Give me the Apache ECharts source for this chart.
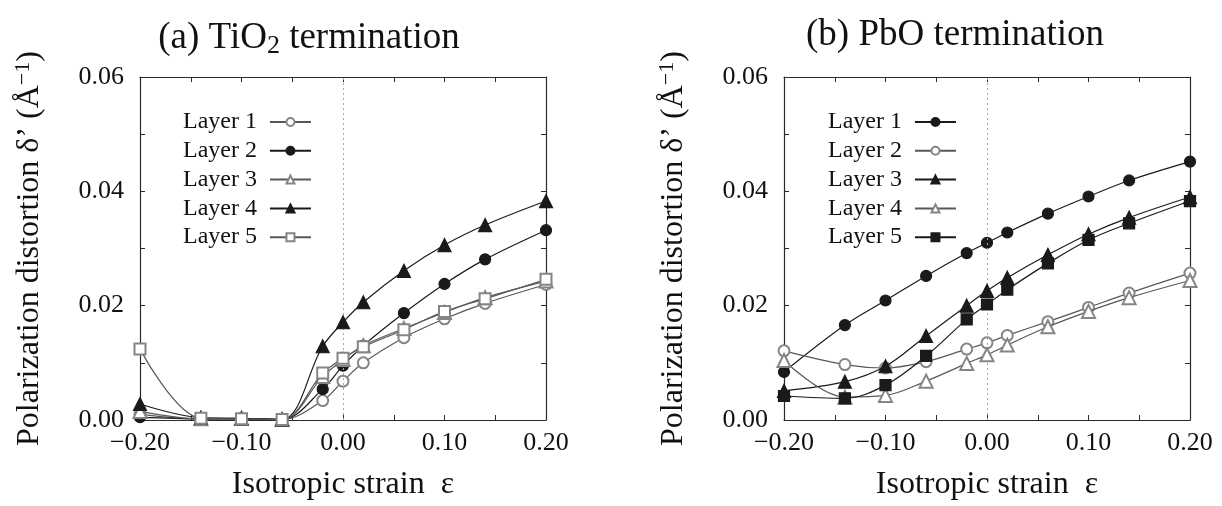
<!DOCTYPE html>
<html>
<head>
<meta charset="utf-8">
<script src="https://cdn.jsdelivr.net/npm/echarts@6/dist/echarts.min.js"></script>
<style>
  html, body { margin: 0; padding: 0; background: #fff; }
  #chart { width: 1222px; height: 506px; }
</style>
</head>
<body>
<div id="chart"></div>
<script>
// Isotropic strain values shared by both panels
const strain = [-0.20, -0.14, -0.10, -0.06, -0.02, 0.00, 0.02, 0.06, 0.10, 0.14, 0.20];

// (a) TiO2-terminated slab, polarization distortion per layer (1/Å)
const tio2Layer1 = [0.0010, 0.0002, 0.0002, 0.0001, 0.0034, 0.0068, 0.0100, 0.0144, 0.0177, 0.0204, 0.0237];
const tio2Layer2 = [0.0005, 0.0002, 0.0002, 0.0001, 0.0054, 0.0095, 0.0130, 0.0187, 0.0238, 0.0281, 0.0332];
const tio2Layer3 = [0.0015, 0.0002, 0.0003, 0.0001, 0.0076, 0.0106, 0.0130, 0.0160, 0.0188, 0.0214, 0.0243];
const tio2Layer4 = [0.0028, 0.0004, 0.0003, 0.0001, 0.0129, 0.0171, 0.0206, 0.0261, 0.0306, 0.0341, 0.0383];
const tio2Layer5 = [0.0124, 0.0003, 0.0002, 0.0001, 0.0082, 0.0108, 0.0128, 0.0158, 0.0190, 0.0212, 0.0246];

// (b) PbO-terminated slab
const pboLayer1 = [0.0084, 0.0166, 0.0209, 0.0252, 0.0292, 0.0310, 0.0328, 0.0361, 0.0391, 0.0419, 0.0452];
const pboLayer2 = [0.0121, 0.0097, 0.0091, 0.0102, 0.0124, 0.0135, 0.0148, 0.0172, 0.0197, 0.0222, 0.0257];
const pboLayer3 = [0.0051, 0.0067, 0.0094, 0.0147, 0.0200, 0.0226, 0.0249, 0.0289, 0.0325, 0.0354, 0.0390];
const pboLayer4 = [0.0104, 0.0040, 0.0043, 0.0068, 0.0099, 0.0114, 0.0131, 0.0163, 0.0190, 0.0214, 0.0244];
const pboLayer5 = [0.0042, 0.0038, 0.0061, 0.0112, 0.0176, 0.0202, 0.0228, 0.0274, 0.0315, 0.0344, 0.0383];

const layerNames = ['Layer 1', 'Layer 2', 'Layer 3', 'Layer 4', 'Layer 5'];
const panelTitles = ['(a) TiO{sub|2} termination', '(b) PbO termination'];
const xAxisTitle = 'Isotropic strain  \u03b5';
const yAxisTitle = '{t|Polarization distortion \u03b4\u2019 (\u00c5}{sup|\u22121}{t|)}';

const FONT = '"Liberation Serif", "DejaVu Serif", serif';
const DARK = '#1a1a1a';
const GREY_LINE = '#585858';
const GREY_MARK = '#858585';
const AXIS = '#2a2a2a';
const TEXT = '#111';

// marker style per layer for each panel: [symbol, filled]
const tio2Marks = [['emptyCircle', false], ['circle', true], ['emptyTriangle', false], ['triangle', true], ['emptyRect', false]];
const pboMarks  = [['circle', true], ['emptyCircle', false], ['triangle', true], ['emptyTriangle', false], ['rect', true]];

const grids = [
  { left: 140, top: 77, width: 406, height: 343 },
  { left: 784, top: 77, width: 406, height: 343 }
];

function fmtTick(v) {
  const s = Math.abs(v).toFixed(2);
  return v < -1e-9 ? '\u2212' + s : s;
}

const axisLine = { show: true, onZero: false, lineStyle: { color: AXIS, width: 1.2 } };
const tick = { show: true, inside: true, length: 5, lineStyle: { color: AXIS, width: 1 } };
const minor = { show: true, splitNumber: 2, length: 5, lineStyle: { color: AXIS, width: 1 } };

const xAxes = [], yAxes = [];
grids.forEach((g, gi) => {
  // bottom axis with labels, top mirror axis
  xAxes.push({
    gridIndex: gi, type: 'value', min: -0.2, max: 0.2, interval: 0.1, position: 'bottom',
    axisLine, axisTick: tick, minorTick: minor, splitLine: { show: false },
    axisLabel: { formatter: fmtTick, fontFamily: FONT, fontSize: 26, color: TEXT, margin: 10 },
    name: xAxisTitle, nameLocation: 'middle', nameGap: 49,
    nameTextStyle: { fontFamily: FONT, fontSize: 32, color: TEXT }
  });
  xAxes.push({
    gridIndex: gi, type: 'value', min: -0.2, max: 0.2, interval: 0.1, position: 'top',
    axisLine, axisTick: tick, minorTick: minor, splitLine: { show: false },
    axisLabel: { show: false }
  });
  // left axis with labels, right mirror axis
  yAxes.push({
    gridIndex: gi, type: 'value', min: 0, max: 0.06, interval: 0.02, position: 'left',
    axisLine, axisTick: tick, minorTick: minor, splitLine: { show: false },
    axisLabel: { formatter: v => v.toFixed(2), fontFamily: FONT, fontSize: 26, color: TEXT, margin: 16 },
    name: yAxisTitle, nameLocation: 'middle', nameGap: 92,
    nameTextStyle: {
      color: TEXT,
      rich: {
        t: { fontFamily: FONT, fontSize: 32, color: TEXT },
        sup: { fontFamily: FONT, fontSize: 22, color: TEXT, padding: [0, 0, 14, 0] }
      }
    }
  });
  yAxes.push({
    gridIndex: gi, type: 'value', min: 0, max: 0.06, interval: 0.02, position: 'right',
    axisLine, axisTick: tick, minorTick: minor, splitLine: { show: false },
    axisLabel: { show: false }
  });
});

function makeSeries(panel, gi, arrays, marks) {
  return arrays.map((arr, i) => {
    const [sym, filled] = marks[i];
    const lineCol = filled ? DARK : GREY_LINE;
    const markCol = filled ? DARK : GREY_MARK;
    const s = {
      name: panel + layerNames[i],
      type: 'line',
      xAxisIndex: gi * 2, yAxisIndex: gi * 2,
      data: strain.map((x, k) => [x, arr[k]]),
      smooth: 0.35,
      symbol: sym,
      symbolSize: sym.indexOf('ircle') >= 0 ? 11 : (sym.indexOf('riangle') >= 0 ? 13 : 11),
      showAllSymbol: true,
      lineStyle: { color: lineCol, width: 1.2 },
      itemStyle: { color: markCol, borderColor: markCol, borderWidth: 1.2 },
      emphasis: { disabled: true },
      z: 3 + i
    };
    if (i === 0) {
      // dotted guide at zero strain
      s.markLine = {
        silent: true, symbol: 'none', label: { show: false },
        lineStyle: { type: [2, 3], color: '#a8a8a8', width: 1 },
        emphasis: { disabled: true },
        data: [{ xAxis: 0 }]
      };
    }
    return s;
  });
}

const series = [
  ...makeSeries('a:', 0, [tio2Layer1, tio2Layer2, tio2Layer3, tio2Layer4, tio2Layer5], tio2Marks),
  ...makeSeries('b:', 1, [pboLayer1, pboLayer2, pboLayer3, pboLayer4, pboLayer5], pboMarks)
];

function makeLegend(panel, left) {
  return {
    orient: 'vertical', align: 'right', left: left, top: 105,
    itemWidth: 41, itemHeight: 10, itemGap: 4.8,
    data: layerNames.map(n => panel + n),
    formatter: name => name.slice(2),
    textStyle: { fontFamily: FONT, fontSize: 24, color: TEXT, lineHeight: 22, padding: [0, 8, 0, 0] },
    selectedMode: false
  };
}

const chart = echarts.init(document.getElementById('chart'), null, { renderer: 'canvas' });
chart.setOption({
  animation: false,
  backgroundColor: '#fff',
  title: panelTitles.map((t, i) => ({
    text: t, left: i === 0 ? 304 : 950, top: 12, textAlign: 'center',
    textStyle: {
      fontFamily: FONT, fontSize: 37, fontWeight: 'normal', color: TEXT,
      rich: { sub: { fontFamily: FONT, fontSize: 26, color: TEXT, padding: [16, 0, 0, 0] } }
    }
  })),
  grid: grids,
  xAxis: xAxes,
  yAxis: yAxes,
  legend: [makeLegend('a:', 178), makeLegend('b:', 823)],
  series
});
</script>
</body>
</html>
